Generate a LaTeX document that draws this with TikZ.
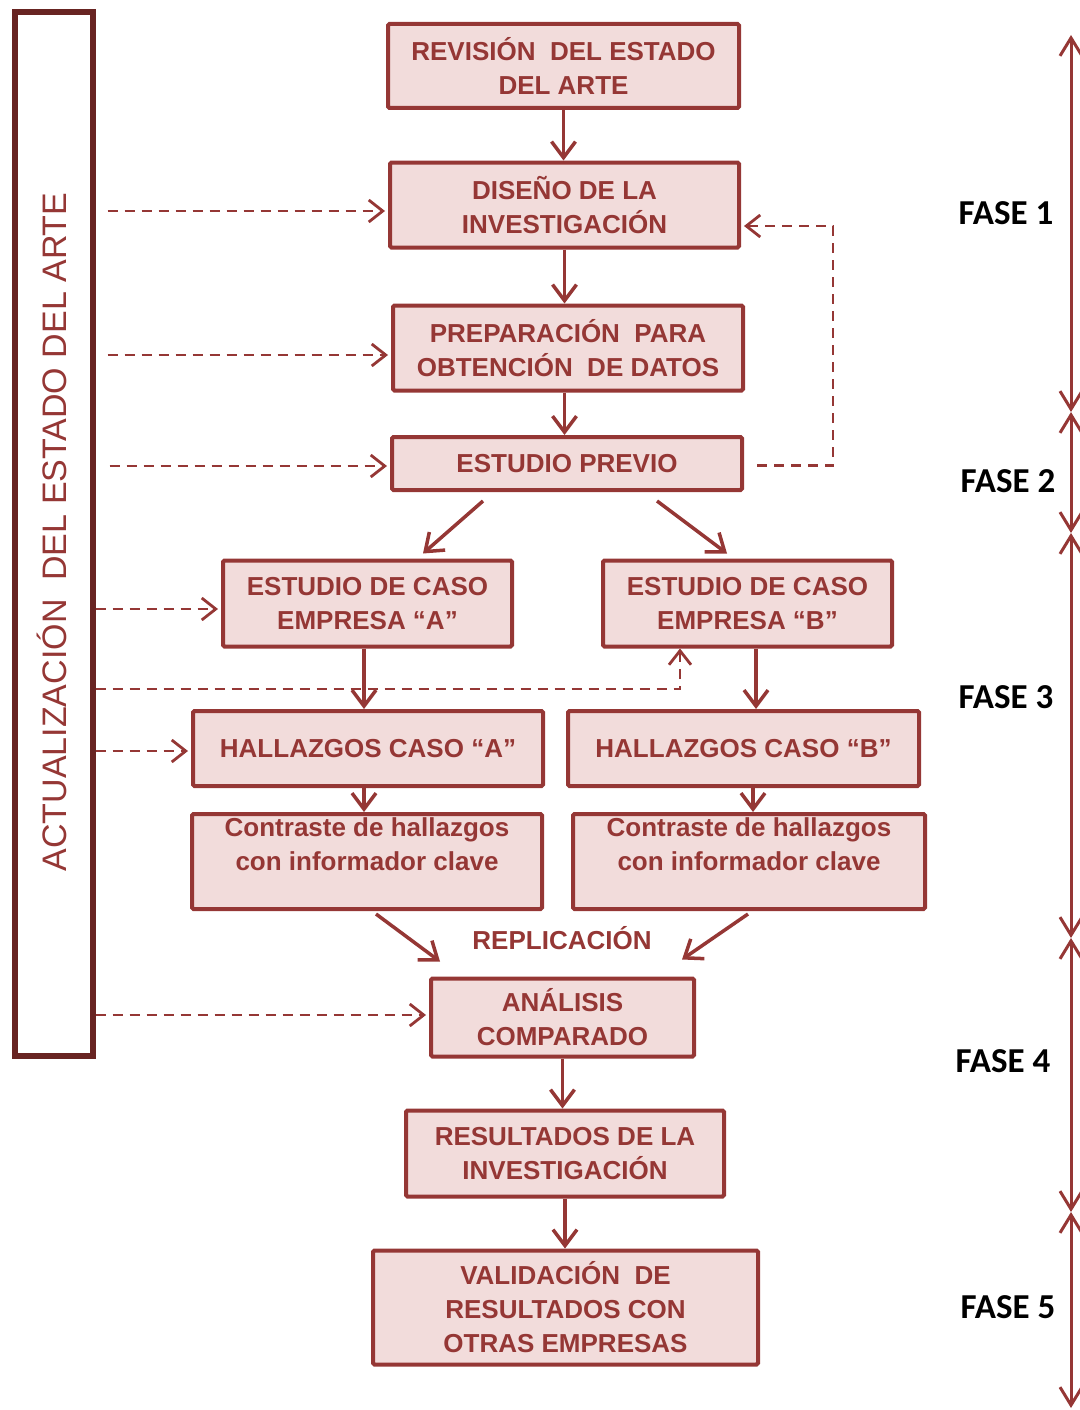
\documentclass[tikz,border=0pt]{standalone}
\usepackage{fontspec}
\setmainfont{Liberation Sans}
\newfontfamily\fasefont{Carlito}
\usetikzlibrary{arrows.meta,calc}

\definecolor{brd}{RGB}{149,55,53}
\definecolor{boxfill}{RGB}{242,220,219}
\definecolor{bardark}{RGB}{104,36,34}

\begin{document}
\begin{tikzpicture}[x=1pt,y=-1pt,
  stepbox/.style={draw=brd, fill=boxfill, line width=4pt, rounded corners=1.5pt,
    inner sep=0pt, align=center, text=brd,
    font=\fontsize{26}{34}\selectfont\bfseries},
  flow/.style={brd, line width=3.5pt, -{Straight Barb[length=16pt,width=24pt]}},
  feed/.style={brd, line width=2.8pt, dash pattern=on 10pt off 7pt,
    -{Straight Barb[length=14pt,width=22pt]}, shorten >=3pt},
  phasearrow/.style={brd, line width=3pt,
    {Straight Barb[length=18pt,width=22pt]}-{Straight Barb[length=18pt,width=22pt]}},
  fase/.style={font=\fasefont\bfseries\fontsize{35}{40}\selectfont, text=black, inner sep=0pt},
  repltext/.style={text=brd, font=\fontsize{26}{30}\selectfont\bfseries, inner sep=0pt}]

\useasboundingbox (0,0) rectangle (1079,1410);

% side bar: continuous update of the state of the art
\node[draw=bardark, line width=6pt, minimum width=78pt, minimum height=1043pt, inner sep=0pt] (bar) at (53.5,534) {};
\node[rotate=90, text=brd, font=\fontsize{34}{40}\selectfont, inner sep=0pt] (bartext) at (52,532)
  {ACTUALIZACIÓN~ DEL ESTADO DEL ARTE};

% process steps
\node[stepbox, minimum width=351pt, minimum height=84pt] (rev) at (563.5,66) {REVISIÓN~ DEL ESTADO\\DEL ARTE};
\node[stepbox, minimum width=349pt, minimum height=85pt] (dis) at (564.5,205) {DISEÑO DE LA\\INVESTIGACIÓN};
\node[stepbox, minimum width=350pt, minimum height=85pt] (prep) at (568,348) {PREPARACIÓN~ PARA\\OBTENCIÓN~ DE DATOS};
\node[stepbox, minimum width=350pt, minimum height=53pt] (prev) at (567,463.5) {ESTUDIO PREVIO};
\node[stepbox, minimum width=289pt, minimum height=86pt] (casoA) at (367.5,603.5) {ESTUDIO DE CASO\\EMPRESA “A”};
\node[stepbox, minimum width=289pt, minimum height=86pt] (casoB) at (747.5,603.5) {ESTUDIO DE CASO\\EMPRESA “B”};
\node[stepbox, minimum width=350pt, minimum height=75pt] (hallA) at (368,748.5) {HALLAZGOS CASO “A”};
\node[stepbox, minimum width=351pt, minimum height=75pt] (hallB) at (743.5,748.5) {HALLAZGOS CASO “B”};
\node[stepbox, minimum width=350pt, minimum height=95pt] (contA) at (367,861.5) {Contraste de hallazgos\\con informador clave\\\mbox{}};
\node[stepbox, minimum width=352pt, minimum height=95pt] (contB) at (749,861.5) {Contraste de hallazgos\\con informador clave\\\mbox{}};
\node[stepbox, minimum width=263pt, minimum height=78pt] (ana) at (562.5,1017.5) {ANÁLISIS\\COMPARADO};
\node[stepbox, minimum width=318pt, minimum height=86pt] (res) at (565,1153.5) {RESULTADOS DE LA\\INVESTIGACIÓN};
\node[stepbox, minimum width=385pt, minimum height=114pt] (val) at (565.5,1307.5) {VALIDACIÓN~ DE\\RESULTADOS CON\\OTRAS EMPRESAS};

\node[repltext] (repl) at (562,938) {REPLICACIÓN};

% phase labels
\node[fase] (f1) at (1006,213) {FASE 1};
\node[fase] (f2) at (1008,481) {FASE 2};
\node[fase] (f3) at (1006,697) {FASE 3};
\node[fase] (f4) at (1003,1061) {FASE 4};
\node[fase] (f5) at (1008,1307) {FASE 5};

% phase spans
\coordinate (p0) at (1071,35);
\coordinate (p1) at (1071,412);
\coordinate (p2) at (1071,533);
\coordinate (p3) at (1071,938);
\coordinate (p4) at (1071,1212);
\coordinate (p5) at (1071,1408);
\draw[phasearrow] (p0) -- (p1);
\draw[phasearrow] (p1) -- (p2);
\draw[phasearrow] (p2) -- (p3);
\draw[phasearrow] (p3) -- (p4);
\draw[phasearrow] (p4) -- (p5);

% main flow
\draw[flow] (rev.south) -- (rev.south |- dis.north);
\draw[flow] (dis.south) -- (dis.south |- prep.north);
\draw[flow] (prep.south -| dis.south) -- (dis.south |- prev.north);
\draw[flow] ($(prev.south)+(-84,9)$) -- ($(casoA.north)+(55.5,-5)$);
\draw[flow] ($(prev.south)+(90,9)$) -- ($(casoB.north)+(-20.5,-5)$);
\coordinate (xa) at ($(casoA.south)+(-3.5,0)$);
\coordinate (xb) at ($(casoB.south)+(8.5,0)$);
\coordinate (xc) at ($(hallA.south)+(-4,0)$);
\coordinate (xd) at ($(hallB.south)+(9.5,0)$);
\draw[flow] (xa) -- (xa |- hallA.north);
\draw[flow] (xb) -- (xb |- hallB.north);
\draw[flow] (xc) -- (xc |- contA.north);
\draw[flow] (xd) -- (xd |- contB.north);
\draw[flow] ($(contA.south)+(9,3)$) -- ($(ana.north)+(-122.5,-15)$);
\draw[flow] ($(contB.south)+(-1,3)$) -- ($(ana.north)+(119.5,-17)$);
\draw[flow] (ana.south) -- (ana.south |- res.north);
\draw[flow] (res.south) -- (res.south |- val.north);

% feeds from the state-of-the-art update
\coordinate (d1) at ($(dis.west)+(0,6)$);
\coordinate (d2) at ($(prep.west)+(0,7)$);
\coordinate (d3) at ($(prev.west)+(0,2.5)$);
\coordinate (d4) at ($(casoA.west)+(0,5.5)$);
\coordinate (d5) at ($(hallA.west)+(0,2.5)$);
\coordinate (d6) at ($(ana.west)+(0,-2.5)$);
\draw[feed] ($(bar.east |- d1)+(12,0)$) -- (d1);
\draw[feed] ($(bar.east |- d2)+(12,0)$) -- (d2);
\draw[feed] ($(bar.east |- d3)+(14,0)$) -- (d3);
\draw[feed] (bar.east |- d4) -- (d4);
\draw[feed] (bar.east |- d5) -- (d5);
\draw[feed] (bar.east |- d6) -- (d6);
\coordinate (lc) at (680,689);
\draw[feed, shorten >=0pt] (bar.east |- lc) -- (lc) -- (lc |- casoB.south);

% feedback from the preliminary study to the design
\coordinate (fb) at (833,226);
\draw[feed] ($(prev.east)+(13,2)$) -| (fb) -- (fb -| dis.east);

\end{tikzpicture}
\end{document}
